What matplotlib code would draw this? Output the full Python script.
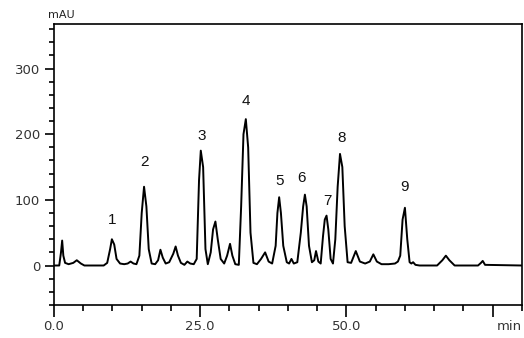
import numpy as np
import matplotlib.pyplot as plt
from matplotlib.ticker import MultipleLocator

# chromatogram trace (time in min, signal in mAU)
times = [0, 0.9, 1.2, 1.4, 1.6, 1.9, 2.5, 3.3, 3.9, 4.6, 5.2, 8.5, 9.1, 9.6, 9.9,
         10.3, 10.7, 11.3, 12.0, 12.6, 13.1, 13.6, 14.1, 14.6, 15.0, 15.4, 15.8,
         16.2, 16.7, 17.3, 17.8, 18.2, 18.6, 19.1, 19.7, 20.4, 20.8, 21.2, 21.7,
         22.3, 22.8, 23.3, 23.9, 24.4, 24.8, 25.1, 25.5, 25.9, 26.3, 26.8, 27.2,
         27.6, 28.0, 28.5, 29.1, 29.6, 30.1, 30.5, 31.0, 31.6, 32.0, 32.4, 32.8,
         33.2, 33.6, 34.1, 34.7, 35.4, 36.1, 36.7, 37.3, 37.9, 38.2, 38.5, 38.8,
         39.2, 39.8, 40.2, 40.6, 41.0, 41.6, 42.2, 42.6, 42.9, 43.2, 43.6, 44.1,
         44.5, 44.8, 45.2, 45.6, 46.0, 46.3, 46.6, 46.9, 47.3, 47.7, 48.1, 48.5,
         48.9, 49.3, 49.7, 50.2, 50.8, 51.6, 52.3, 53.2, 54.0, 54.6, 55.2, 56.0,
         57.2, 58.3, 58.8, 59.2, 59.6, 60.0, 60.4, 60.8, 61.1, 61.4, 61.8, 62.5,
         65.5, 66.4, 67.0, 67.6, 68.5, 72.5, 73.0, 73.3, 73.7, 80]
signal = [0, 0, 20, 38, 15, 4, 2, 4, 8, 3, 0, 0, 4, 25, 40,
          32, 10, 3, 2, 3, 6, 3, 2, 15, 80, 120, 90,
          25, 3, 2, 8, 24, 12, 3, 5, 18, 29, 15, 4,
          1, 6, 3, 2, 10, 130, 175, 150, 25, 2, 20, 55,
          67, 40, 10, 3, 15, 33, 15, 2, 1, 90, 200, 223,
          180, 50, 4, 2, 10, 20, 6, 3, 30, 80, 104, 80,
          30, 5, 3, 10, 3, 5, 50, 90, 108, 90, 30, 5,
          8, 22, 6, 3, 45, 70, 76, 55, 10, 3, 40, 120,
          170, 150, 60, 5, 4, 22, 6, 3, 6, 17, 6, 2,
          2, 3, 6, 15, 70, 88, 40, 5, 3, 5, 1, 0,
          0, 8, 15, 8, 0, 0, 4, 7, 1, 0]

peak_names = ["1", "2", "3", "4", "5", "6", "7", "8", "9"]
peak_t = [9.9, 15.4, 25.3, 32.8, 38.6, 42.4, 46.7, 49.1, 60.0]
peak_y = [70, 157, 198, 250, 128, 134, 98, 195, 119]

x_ticks = [0, 25, 50, 75]
x_labels = ["0.0", "25.0", "50.0", ""]
y_ticks = [0, 100, 200, 300]

fig = plt.figure(figsize=(5.24, 3.38), dpi=100)
ax = fig.add_axes([0.103, 0.098, 0.893, 0.831])

ax.plot(times, signal, color="black", lw=1.4)

for name, t, y in zip(peak_names, peak_t, peak_y):
    ax.text(t, y, name, ha="center", va="center", fontsize=11,
            family="Liberation Sans", color="#111111")

ax.set_xlim(0, 80)
ax.set_ylim(-60, 368)
ax.set_xticks(x_ticks)
ax.set_xticklabels(x_labels)
ax.set_yticks(y_ticks)
ax.xaxis.set_minor_locator(MultipleLocator(5))
ax.yaxis.set_minor_locator(MultipleLocator(20))

ax.tick_params(axis="x", which="major", length=8.5, width=1.2, pad=2.5,
               labelsize=9.5, labelcolor="#333333")
ax.tick_params(axis="x", which="minor", length=4.3, width=1.2)
ax.tick_params(axis="y", which="major", length=6.5, width=1.2, pad=3.5,
               labelsize=9.5, labelcolor="#333333")
ax.tick_params(axis="y", which="minor", length=3.6, width=1.2)
for tl in ax.get_xticklabels() + ax.get_yticklabels():
    tl.set_family("DejaVu Sans")

for s in ax.spines.values():
    s.set_linewidth(1.2)

fig.text(48 / 524, 1 - 15 / 338, "mAU", fontsize=8, family="DejaVu Sans",
         ha="left", va="center", color="#222222")
fig.text(522 / 524, 1 - 327 / 338, "min", fontsize=9.5, family="DejaVu Sans",
         ha="right", va="center", color="#333333")

fig.savefig("out.png", dpi=100)
